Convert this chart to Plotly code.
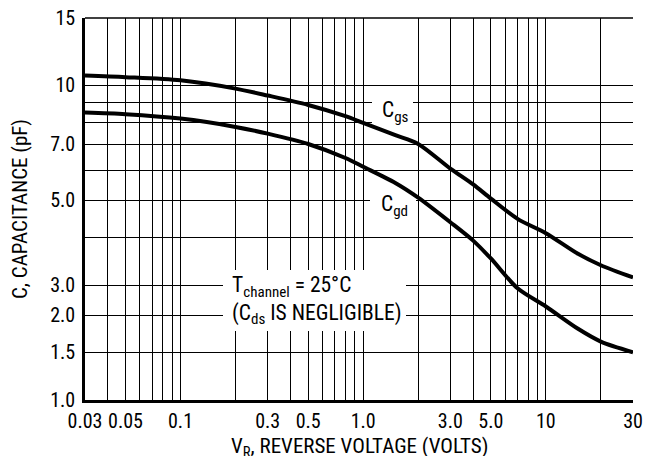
import numpy as np
import plotly.graph_objects as go

# ---------------- data ----------------
VR = [0.03, 0.05, 0.1, 0.2, 0.3, 0.5, 0.8, 1.0, 1.5, 2.0, 3.0, 4.0, 5.0, 7.0, 10, 15, 20, 30]
CGS = [10.6, 10.5, 10.3, 9.8, 9.4, 8.88, 8.3, 7.97, 7.4, 7.02, 6.05, 5.5, 5.05, 4.47, 4.1, 3.62, 3.38, 3.14]
CGD = [8.48, 8.4, 8.18, 7.78, 7.47, 7.02, 6.45, 6.12, 5.55, 5.08, 4.38, 3.92, 3.52, 2.87, 2.25, 1.8, 1.63, 1.5]

X_TICKS = [0.03, 0.05, 0.1, 0.3, 0.5, 1.0, 3.0, 5.0, 10, 30]
X_TICK_TEXT = ["0.03", "0.05", "0.1", "0.3", "0.5", "1.0", "3.0", "5.0", "10", "30"]
X_MINOR = [0.04, 0.06, 0.07, 0.08, 0.09, 0.2, 0.4, 0.6, 0.7, 0.8, 0.9,
           2, 4, 6, 7, 8, 9, 20]

Y_TICKS = [1.0, 1.5, 2.0, 3.0, 5.0, 7.0, 10, 15]
Y_TICK_TEXT = ["1.0", "1.5", "2.0", "3.0", "5.0", "7.0", "10", "15"]
# the printed labels sit on these lines of the underlying log grid
Y_TICK_GRID = [1.5, 2.0, 2.5, 3.0, 5.0, 7.0, 10, 15]
Y_MINOR = [4, 6, 8, 9]

X_TITLE = "V<sub>R</sub>, REVERSE VOLTAGE (VOLTS)"
Y_TITLE = "C, CAPACITANCE (pF)"


def yscale(c):
    """map printed capacitance values onto the chart's log grid"""
    c = np.asarray(c, dtype=float)
    return 10 ** np.interp(np.log10(c), np.log10(Y_TICKS), np.log10(Y_TICK_GRID))


FONT = "Liberation Sans Narrow, Arial Narrow, Roboto Condensed, Liberation Sans, sans-serif"
INK = "black"
EPS = 1e-6

# figure geometry (the page body adds an 8 px margin around the figure)
W, H = 635, 448
ML, MR, MT, MB = 77, 10, 10, 56
PW, PH = W - ML - MR, H - MT - MB

XLO, XHI = np.log10(X_TICKS[0]), np.log10(X_TICKS[-1])
YLO, YHI = np.log10(min(Y_TICK_GRID)), np.log10(max(Y_TICK_GRID))


def px(x):   # horizontal offset inside the plot area -> paper fraction
    return x / PW


def py(y):   # vertical offset from the plot top -> paper fraction
    return 1 - y / PH


def xd(x):   # horizontal offset inside the plot area -> axis value
    return 10 ** (XLO + (XHI - XLO) * x / PW)


def yd(y):   # vertical offset from the plot top -> axis value
    return 10 ** (YHI - (YHI - YLO) * y / PH)


fig = go.Figure()
for vals in (CGS, CGD):
    fig.add_trace(go.Scatter(
        x=VR, y=yscale(vals), mode="lines",
        line=dict(color=INK, width=4, shape="spline", smoothing=0.8),
        showlegend=False, hoverinfo="skip"))

grid = dict(showgrid=True, gridcolor=INK, gridwidth=1.3)

fig.update_xaxes(
    type="log", range=[XLO - EPS, XHI + EPS], automargin=False,
    tickmode="array", tickvals=X_TICKS, ticktext=X_TICK_TEXT,
    ticks="", zeroline=False, showline=True, linecolor=INK, linewidth=2.5,
    tickfont=dict(size=20, color=INK), ticklabelstandoff=1,
    ticklabeloverflow="allow",
    minor=dict(tickmode="array", tickvals=X_MINOR, ticks="", **grid),
    **grid)

fig.update_yaxes(
    type="log", range=[YLO - EPS, YHI + EPS], automargin=False,
    tickmode="array", tickvals=list(yscale(Y_TICKS)), ticktext=Y_TICK_TEXT,
    ticks="", zeroline=False, showline=True, linecolor=INK, linewidth=2.5,
    tickfont=dict(size=20, color=INK), ticklabelstandoff=3,
    ticklabeloverflow="allow",
    minor=dict(tickmode="array", tickvals=list(yscale(Y_MINOR)), ticks="", **grid),
    title=dict(text=Y_TITLE, font=dict(size=21, color=INK), standoff=19),
    **grid)

# thin top border of the plot frame
fig.add_shape(type="line", xref="paper", yref="paper", x0=0, x1=1, y0=1, y1=1,
              line=dict(color=INK, width=1.3))

# white label backgrounds: above the grid, below the curves
for (x0, x1, y0, y1) in [(287, 328, 78, 106),      # C_gs
                         (285, 331, 172, 199),     # C_gd
                         (138, 321, 252, 313)]:    # T_channel note
    fig.add_shape(type="rect", xref="x", yref="y",
                  x0=xd(x0), x1=xd(x1), y0=yd(y1), y1=yd(y0),
                  fillcolor="white", line=dict(width=0), layer="between")

ann_font = dict(family=FONT, size=21.5, color=INK)
fig.add_annotation(xref="paper", yref="paper", x=px(310), y=py(93),
                   xanchor="center", yanchor="middle",
                   text="C<sub>gs</sub>", showarrow=False, font=ann_font)
fig.add_annotation(xref="paper", yref="paper", x=px(309), y=py(187),
                   xanchor="center", yanchor="middle",
                   text="C<sub>gd</sub>", showarrow=False, font=ann_font)
fig.add_annotation(xref="paper", yref="paper", x=px(145), y=py(282),
                   xanchor="left", yanchor="middle", align="left",
                   text="T<sub>channel</sub> = 25°C<br>(C<sub>ds</sub> IS NEGLIGIBLE)",
                   showarrow=False, font=ann_font)

# x-axis title, centred under the plot
fig.add_annotation(xref="paper", yref="paper", x=0.5, y=py(429),
                   xanchor="center", yanchor="middle",
                   text=X_TITLE, showarrow=False,
                   font=dict(family=FONT, size=21, color=INK))

fig.update_layout(
    width=W, height=H,
    margin=dict(l=ML, r=MR, t=MT, b=MB),
    paper_bgcolor="white", plot_bgcolor="white",
    font=dict(family=FONT, color=INK),
)

fig.write_html("out.html")
